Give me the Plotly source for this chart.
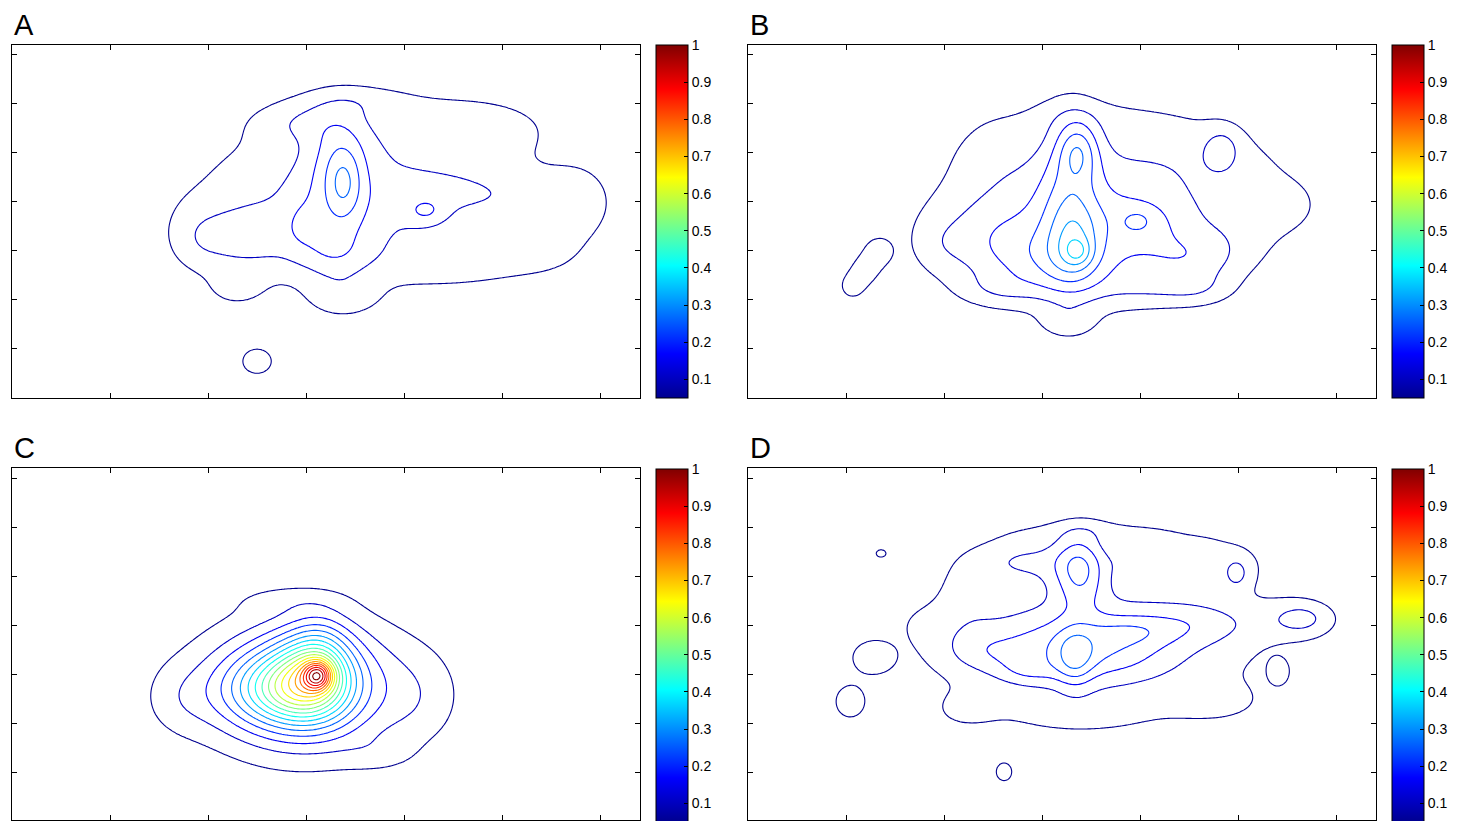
import numpy as np
import plotly.graph_objects as go

# ---------------- data: density components ----------------
# axis units: x 0..628, y 0..353 (ticks every 98 / 49 units, unlabeled)
A_cx = [332, 324, 338, 348, 228, 183, 288, 465, 443, 414, 518, 570, 533, 333, 458, 223, 245, 318, 343, 330, 288]
A_cy = [214, 198, 198, 193, 160, 158, 276, 272, 206, 186, 198, 195, 148, 100, 133, 108, 36, 143, 298, 250, 173]
A_sx = [12, 24, 110, 130, 35, 20, 35, 65, 40, 14, 35, 25, 30, 25, 50, 22, 13, 30, 40, 20, 12]
A_sy = [22, 55, 60, 65, 22, 25, 15, 25, 14, 9, 22, 28, 18, 14, 14, 14, 11, 15, 12, 25, 18]
A_amp = [0.08, 0.065, 0.07, 0.045, 0.07, 0.03, 0.05, 0.05, 0.035, 0.055, 0.035, 0.055, 0.04,
         0.04, 0.04, 0.04, 0.085, 0.035, 0.04, 0.05, 0.03]

B_cx = [330, 327, 322, 330, 332, 342, 242, 450, 474, 445, 512, 540, 389, 104, 117, 130, 319, 330, 190,
        242, 252, 402, 452, 395, 310]
B_cy = [146, 158, 193, 248, 173, 183, 158, 245, 250, 140, 188, 193, 176, 111, 128, 146, 75, 283, 153,
        248, 108, 108, 108, 178, 135]
B_sx = [9, 16, 22, 14, 90, 120, 40, 70, 13, 38, 35, 20, 8, 11, 11, 11, 18, 70, 20, 30, 30, 40, 25, 30, 45]
B_sy = [9, 25, 65, 20, 55, 65, 30, 32, 15, 20, 30, 15, 6, 11, 11, 11, 10, 15, 20, 25, 12, 12, 12, 18, 22]
B_amp = [0.07, 0.06, 0.10, 0.11, 0.08, 0.06, 0.05, 0.04, 0.06, 0.075, 0.04, 0.035, 0.05, 0.062, 0.062,
         0.062, 0.04, 0.025, 0.025, 0.03, 0.04, 0.035, 0.035, 0.05, 0.07]

C_cx = [306, 300, 268, 293, 288, 408, 168, 368, 278, 308]
C_cy = [146, 142, 132, 137, 132, 122, 122, 67, 222, 172]
C_sx = [10, 28, 40, 60, 100, 30, 25, 25, 40, 20]
C_sy = [10, 28, 25, 45, 55, 35, 25, 12, 10, 25]
C_amp = [0.30, 0.28, 0.22, 0.17, 0.07, 0.04, 0.04, 0.03, 0.03, 0.08]

D_cx = [327, 337, 385, 280, 332, 342, 352, 278, 390, 450, 470, 489, 555, 552, 531, 133, 124, 102, 256,
        352, 330, 182, 470, 235, 215, 220]
D_cy = [162, 172, 190, 150, 252, 180, 185, 262, 262, 198, 262, 248, 203, 202, 149, 268, 163, 119, 49,
        292, 105, 197, 118, 170, 110, 230]
D_sx = [13, 55, 28, 22, 18, 120, 130, 40, 20, 45, 45, 9, 22, 30, 7, 6, 15, 12, 7, 80, 60, 25, 35, 30, 25, 20]
D_sy = [20, 22, 10, 10, 26, 50, 55, 16, 12, 15, 22, 11, 13, 14, 9, 4.5, 12, 13, 8, 10, 15, 15, 15, 15, 15, 25]
D_amp = [0.09, 0.10, 0.04, 0.045, 0.15, 0.07, 0.045, 0.075, 0.05, 0.055, 0.045, 0.06, 0.07, 0.02, 0.065,
         0.06, 0.075, 0.085, 0.085, 0.04, 0.035, 0.02, 0.04, 0.05, 0.035, 0.035]

PANELS = ["A", "B", "C", "D"]
CBAR_TICKS = [0.1, 0.2, 0.3, 0.4, 0.5, 0.6, 0.7, 0.8, 0.9, 1.0]
CBAR_TEXT = ["0.1", "0.2", "0.3", "0.4", "0.5", "0.6", "0.7", "0.8", "0.9", "1"]
X_TICKS = [98, 196, 294, 392, 490, 588]
Y_TICKS = [49, 98, 147, 196, 245, 294, 343]

# ---------------- style ----------------
W, H = 1462, 821
FONT = "Liberation Sans, Arial, Helvetica, sans-serif"
JET = [[0.0, "rgb(0,0,143)"], [0.125, "rgb(0,0,255)"], [0.375, "rgb(0,255,255)"],
       [0.625, "rgb(255,255,0)"], [0.875, "rgb(255,0,0)"], [1.0, "rgb(128,0,0)"]]

xs = np.arange(0, 629, 2.0)
ys = np.arange(0, 354, 2.0)
GX, GY = np.meshgrid(xs, ys)


def density(cx, cy, sx, sy, amp):
    z = np.zeros_like(GX)
    for a, b, c, d, e in zip(cx, cy, sx, sy, amp):
        z += e * np.exp(-0.5 * (((GX - a) / c) ** 2 + ((GY - b) / d) ** 2))
    return np.round(z, 5)


fields = [density(A_cx, A_cy, A_sx, A_sy, A_amp),
          density(B_cx, B_cy, B_sx, B_sy, B_amp),
          density(C_cx, C_cy, C_sx, C_sy, C_amp),
          density(D_cx, D_cy, D_sx, D_sy, D_amp)]

# pixel boxes of the plot areas: (left, top, right, bottom)
boxes = [(12, 45, 640, 398), (748, 45, 1376, 398), (12, 469, 640, 822), (748, 469, 1376, 822)]

fig = go.Figure()
layout = dict(width=W, height=H, margin=dict(l=0, r=0, t=0, b=0), autosize=False,
              paper_bgcolor="white", plot_bgcolor="white", showlegend=False,
              font=dict(family=FONT, color="black"))
annotations = []
for i, (name, z, (l, t, r, b)) in enumerate(zip(PANELS, fields, boxes)):
    k = "" if i == 0 else str(i + 1)
    xa, ya = "x" + k, "y" + k
    bb = min(b, H)
    y0 = 1 - bb / H
    y1 = 1 - t / H
    layout["xaxis" + k] = dict(domain=[l / W, r / W], range=[0, 628], anchor=ya,
                               showgrid=False, zeroline=False, showticklabels=False,
                               ticks="inside", ticklen=5, tickwidth=1, tickcolor="black",
                               tickvals=X_TICKS, mirror="ticks", showline=True,
                               linecolor="black", linewidth=1, fixedrange=True)
    layout["yaxis" + k] = dict(domain=[y0, y1], range=[b - bb, 353],
                               anchor=xa, showgrid=False, zeroline=False, showticklabels=False,
                               ticks="inside", ticklen=5, tickwidth=1, tickcolor="black",
                               tickvals=Y_TICKS, mirror="ticks", showline=True,
                               linecolor="black", linewidth=1, fixedrange=True)
    fig.add_trace(go.Contour(x=xs, y=ys, z=z, xaxis=xa, yaxis=ya,
                             autocontour=False,
                             contours=dict(start=0.05, end=1.0, size=0.05, coloring="lines"),
                             colorscale=JET, zmin=0.05, zmax=1.0, zauto=False,
                             showscale=False, line=dict(width=1.1, smoothing=1),
                             hoverinfo="skip"))
    fig.add_trace(go.Scatter(x=[None], y=[None], xaxis=xa, yaxis=ya, mode="markers",
                             hoverinfo="skip",
                             marker=dict(color=[0.05], colorscale=JET, cmin=0.05, cmax=1.0,
                                         showscale=True,
                                         colorbar=dict(x=(r + 16) / W, xanchor="left",
                                                       y=1 - (t + b) / 2 / H,
                                                       yanchor="middle", len=(b - t) / H, lenmode="fraction",
                                                       thickness=32, thicknessmode="pixels",
                                                       xpad=0, ypad=0, outlinewidth=1, outlinecolor="black",
                                                       tickvals=CBAR_TICKS, ticktext=CBAR_TEXT,
                                                       ticks="inside", ticklen=4, tickcolor="black",
                                                       tickfont=dict(size=14, family=FONT, color="black")))))
    annotations.append(dict(text=name, x=l / W, y=1 - (t - 20) / H, xref="paper", yref="paper",
                            xanchor="left", yanchor="middle", showarrow=False,
                            font=dict(size=29, family=FONT, color="black")))
layout["annotations"] = annotations
fig.update_layout(**layout)
fig.write_html("out.html", config={"displayModeBar": False},
               post_script="document.body.style.margin='0';")
